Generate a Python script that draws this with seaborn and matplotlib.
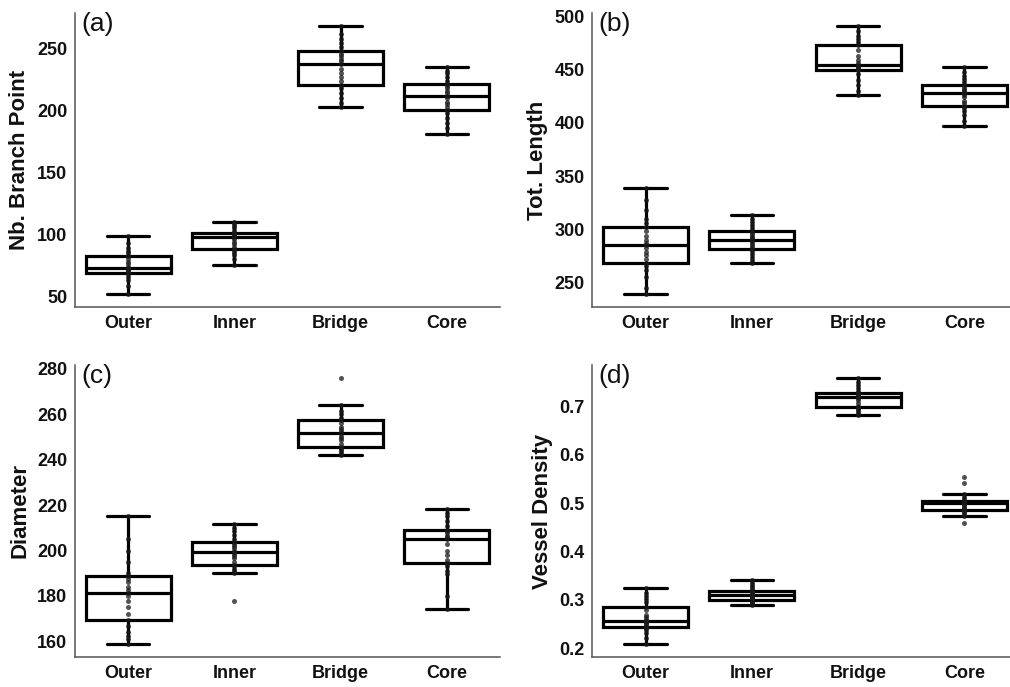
import pandas as pd
import matplotlib
matplotlib.use('Agg')
import matplotlib.pyplot as plt
import seaborn as sns

regiones = ['Outer', 'Inner', 'Bridge', 'Core']

# (a) Nb. Branch Point
branch_outer = [52.1, 58, 63, 66, 68, 69.1, 70, 71, 71.5, 72, 72.8, 74, 76, 78, 80, 82.2, 85, 87, 89, 93, 98.6]
branch_inner = [75.5, 80, 83, 85, 87, 88.4, 90, 92, 94, 96, 97.8, 98.5, 99, 100, 100.5, 101, 103, 105, 107, 108.5, 110]
branch_bridge = [202.8, 206, 210, 214, 218, 220.6, 224, 227, 230, 234, 237.9, 240, 242, 244, 246, 247.8, 251, 255, 258, 262, 268]
branch_core = [180.8, 186, 190, 194, 198, 200.7, 203, 205, 207, 210, 212, 214, 216, 218, 220, 221.7, 224, 227, 230, 232, 235.1]

# (b) Tot. Length
length_outer = [239.5, 245, 255, 262, 266, 268.7, 272, 276, 279, 282, 285, 287, 290, 294, 298, 302.3, 306, 310, 318, 328, 339]
length_inner = [268.7, 271, 274, 277, 280, 281.9, 283, 285, 287, 289, 290.4, 291.5, 293, 295, 297, 298.5, 301, 304, 307, 310, 313.3]
length_bridge = [426.3, 430, 436, 440, 446, 449.8, 450.5, 451.5, 452.5, 453.5, 454.2, 456, 459, 463, 468, 473.4, 476, 479, 482, 486, 490.6]
length_core = [397.4, 402, 407, 411, 414, 416.2, 419, 421, 424, 426, 427.9, 429, 430.5, 432, 434, 435.4, 438, 441, 444, 448, 452.9]

# (c) Diameter
diam_outer = [159, 161, 162.5, 164, 167, 169.5, 172, 175, 178, 180, 181.3, 182.5, 184, 186, 187.5, 188.8, 190, 195, 200, 205, 215.3]
diam_inner = [177.8, 189.9, 191, 192, 193, 193.8, 195, 196.5, 197.5, 198.5, 199.3, 200, 201, 202, 203, 203.6, 205, 207, 208.5, 210, 211.8]
diam_bridge = [241.9, 243, 244, 244.5, 245, 245.7, 247, 248.5, 249.5, 250.5, 251.5, 252.5, 253.5, 254.5, 256, 257.4, 258.5, 260, 261.5, 263.9, 275.8]
diam_core = [174.2, 180, 189.5, 191, 193, 194.6, 196, 198, 200, 203, 205.1, 206, 206.5, 207.5, 208.5, 209.2, 211, 213, 215, 216.5, 218.4]

# (d) Vessel Density
dens_outer = [0.2096, 0.222, 0.232, 0.238, 0.242, 0.2446, 0.247, 0.25, 0.252, 0.255, 0.257, 0.26, 0.264, 0.268, 0.28, 0.2865, 0.295, 0.302, 0.308, 0.315, 0.3257]
dens_inner = [0.2893, 0.293, 0.295, 0.297, 0.299, 0.3003, 0.302, 0.304, 0.306, 0.308, 0.3106, 0.312, 0.313, 0.315, 0.317, 0.3188, 0.322, 0.326, 0.33, 0.335, 0.3415]
dens_bridge = [0.6815, 0.686, 0.69, 0.694, 0.697, 0.6986, 0.702, 0.708, 0.713, 0.717, 0.7206, 0.722, 0.724, 0.725, 0.726, 0.7275, 0.732, 0.738, 0.744, 0.75, 0.7584]
dens_core = [0.4582, 0.4733, 0.478, 0.482, 0.485, 0.487, 0.49, 0.493, 0.496, 0.499, 0.5008, 0.5015, 0.502, 0.503, 0.5035, 0.5042, 0.508, 0.513, 0.52, 0.542, 0.5544]

paneles = [
    ('(a)', 'Nb. Branch Point', [branch_outer, branch_inner, branch_bridge, branch_core], [50, 100, 150, 200, 250]),
    ('(b)', 'Tot. Length', [length_outer, length_inner, length_bridge, length_core], [250, 300, 350, 400, 450, 500]),
    ('(c)', 'Diameter', [diam_outer, diam_inner, diam_bridge, diam_core], [160, 180, 200, 220, 240, 260, 280]),
    ('(d)', 'Vessel Density', [dens_outer, dens_inner, dens_bridge, dens_core], [0.2, 0.3, 0.4, 0.5, 0.6, 0.7]),
]

sns.set_style('white')
plt.rcParams['font.family'] = ['Liberation Sans', 'DejaVu Sans']

fig = plt.figure(figsize=(10.1, 6.87), dpi=100)

# posiciones de los ejes (fraccion de figura)
posiciones = [
    [0.0743, 0.553, 0.4208, 0.428],
    [0.5866, 0.553, 0.4208, 0.428],
    [0.0743, 0.0437, 0.4208, 0.425],
    [0.5866, 0.0437, 0.4208, 0.425],
]

for (etiqueta, ylabel, grupos, yticks), pos in zip(paneles, posiciones):
    ax = fig.add_axes(pos)
    df = pd.DataFrame({
        'region': [r for r, g in zip(regiones, grupos) for _ in g],
        'valor': [v for g in grupos for v in g],
    })
    sns.boxplot(data=df, x='region', y='valor', order=regiones, ax=ax,
                color='white', linecolor='black', linewidth=2.3,
                showfliers=False, width=0.8)
    sns.stripplot(data=df, x='region', y='valor', order=regiones, ax=ax,
                  jitter=False, color='#1a1a1a', alpha=0.75, size=3.6, zorder=5)
    ax.set_yticks(yticks)
    ax.set_xlabel('')
    ax.set_ylabel(ylabel, fontsize=16, fontweight='bold', labelpad=5, color='#111111')
    ax.tick_params(axis='both', length=0, pad=5.5, labelsize=13)
    for lbl in ax.get_xticklabels() + ax.get_yticklabels():
        lbl.set_fontweight('bold')
        lbl.set_color('#111111')
    sns.despine(ax=ax)
    for s in ['left', 'bottom']:
        ax.spines[s].set_color('#555555')
        ax.spines[s].set_linewidth(1.1)
    ax.text(0.015, 1.005, etiqueta, transform=ax.transAxes, va='top', ha='left',
            fontsize=19, color='#111111')

plt.savefig('out.png', dpi=100)
